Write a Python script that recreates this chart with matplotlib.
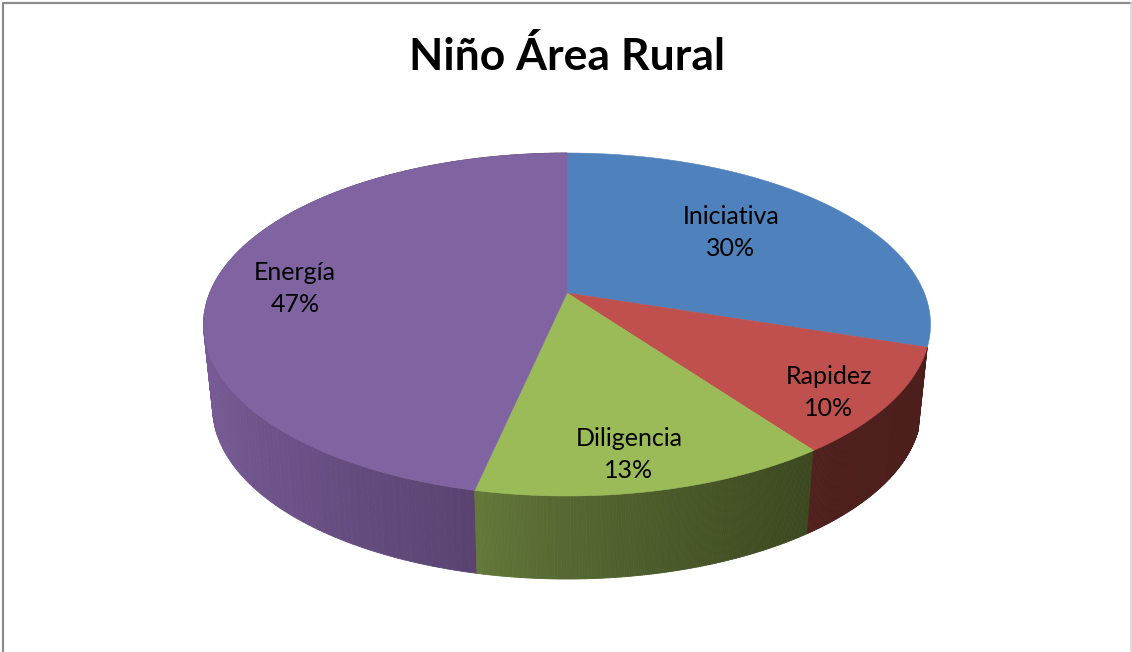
import numpy as np
import matplotlib
matplotlib.use('Agg')
import matplotlib.pyplot as plt
from matplotlib.collections import PolyCollection
from matplotlib.colors import to_rgb

# Data, clockwise from 12 o'clock
categories = ['Iniciativa', 'Rapidez', 'Diligencia', 'Energía']
values = [30.0, 10.0, 13.4, 46.6]
title = 'Niño Área Rural'

top_colors = ['#4f81bd', '#c0504d', '#9bbb59', '#8064a2']
wall_left = ['#4f81bd', '#4f201e', '#64793a', '#775b96']
wall_right = ['#3a5f8c', '#4c1e1c', '#3c4820', '#523c66']
label_xy = [(731, 216), (829, 377), (629, 439), (295, 273)]

# Pie geometry in pixels, with a perspective squash of the unit circle
cx, cy = 567, 293
A, B, a = 357.3, 165.7, 0.1837
bottom_shrink, bottom_drop = 0.975, 83


def rim(theta):
    x, y = np.sin(theta), np.cos(theta)
    d = 1 + a * y
    return cx + A * x / d, cy - B * y / d


def rim_bottom(theta):
    px, py = rim(theta)
    return cx + (px - cx) * bottom_shrink, py + bottom_drop


fig = plt.figure(figsize=(11.32, 6.52), dpi=100)
ax = fig.add_axes([0, 0, 1, 1])
ax.set_xlim(0, 1132)
ax.set_ylim(652, 0)
ax.axis('off')

# Frame of the chart area
ax.plot([2.5, 2.5], [652, 3], color='#8c8c8c', lw=1.6, solid_capstyle='butt')
ax.plot([2, 1132], [3, 3], color='#8c8c8c', lw=1.6, solid_capstyle='butt')
ax.plot([1131, 1131], [3, 652], color='#d4d4d4', lw=1.2)

edges = np.cumsum([0] + values) / sum(values) * 2 * np.pi

# Side walls first, shaded from left to right, then the top faces
for i in [3, 2, 1]:
    th = np.linspace(edges[i], edges[i + 1], 160)
    tx, ty = rim(th)
    bx, by = rim_bottom(th)
    quads = []
    cols = []
    x_min, x_max = tx.min(), tx.max()
    c0, c1 = np.array(to_rgb(wall_left[i])), np.array(to_rgb(wall_right[i]))
    for j in range(len(th) - 1):
        quads.append([(tx[j], ty[j]), (tx[j + 1], ty[j + 1]),
                      (bx[j + 1], by[j + 1]), (bx[j], by[j])])
        f = ((tx[j] + tx[j + 1]) / 2 - x_min) / (x_max - x_min)
        cols.append(c0 + (c1 - c0) * f ** 0.8)
    ax.add_collection(PolyCollection(quads, facecolors=cols, edgecolors=cols, linewidths=0.6))

for i in range(len(values)):
    th = np.linspace(edges[i], edges[i + 1], 200)
    tx, ty = rim(th)
    ax.fill(np.r_[cx, tx], np.r_[cy, ty], color=top_colors[i], lw=0.4)

for name, val, (lx, ly) in zip(categories, values, label_xy):
    ax.text(lx, ly, name, ha='center', va='center', fontsize=18, family='Lato', color='black')
    ax.text(lx, ly + 32, f'{val:.0f}%', ha='center', va='center', fontsize=18, family='Lato', color='black')

ax.text(567, 57, title, ha='center', va='center', fontsize=32, family='Lato', weight='bold', color='black')

fig.savefig('out.png', dpi=100)
